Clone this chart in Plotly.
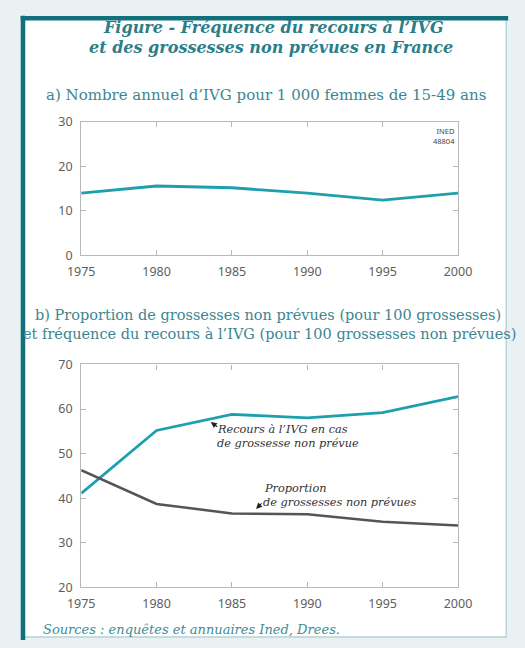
import plotly.graph_objects as go

# --- data ---------------------------------------------------------------
years = [1975, 1980, 1985, 1990, 1995, 2000]

# a) abortions per 1,000 women aged 15-49
ivg_rate = [14.0, 15.6, 15.2, 14.0, 12.4, 14.0]

# b) abortions per 100 unplanned pregnancies, and share of unplanned pregnancies
ivg_if_unplanned = [41.1, 55.2, 58.8, 58.0, 59.2, 62.8]
unplanned_share = [46.3, 38.7, 36.6, 36.4, 34.7, 33.9]

x_ticks = [1975, 1980, 1985, 1990, 1995, 2000]
y_ticks_a = [0, 10, 20, 30]
y_ticks_b = [20, 30, 40, 50, 60, 70]

# --- styles -------------------------------------------------------------
W, H = 525, 648
TEAL_LINE = "#1e9fae"
DARK_LINE = "#555555"
FRAME_DARK = "#11707c"
FRAME_LIGHT = "#b5d3d8"
TITLE_COL = "#2b7e89"
AXIS_COL = "#b8b8b8"
TICK_FONT = dict(family="Noto Sans", size=12.5, color="#5e5e5e")
SERIF = "DejaVu Serif"


def px_x(p):
    return p / W


def px_y(p):
    return 1 - p / H


fig = go.Figure()

fig.add_trace(go.Scatter(x=years, y=ivg_rate, mode="lines",
                         line=dict(color=TEAL_LINE, width=2.8),
                         xaxis="x", yaxis="y", hoverinfo="x+y"))
fig.add_trace(go.Scatter(x=years, y=ivg_if_unplanned, mode="lines",
                         line=dict(color=TEAL_LINE, width=2.8),
                         xaxis="x2", yaxis="y2", hoverinfo="x+y"))
fig.add_trace(go.Scatter(x=years, y=unplanned_share, mode="lines",
                         line=dict(color=DARK_LINE, width=2.5),
                         xaxis="x2", yaxis="y2", hoverinfo="x+y"))

axis_common = dict(showgrid=False, zeroline=False, showline=True,
                   linecolor=AXIS_COL, linewidth=1.2, mirror="ticks",
                   ticks="inside", ticklen=5, tickcolor=AXIS_COL,
                   tickfont=TICK_FONT, fixedrange=True)

x_dom = [px_x(71), px_x(469)]

fig.update_layout(
    width=W, height=H,
    margin=dict(l=0, r=0, t=0, b=0),
    paper_bgcolor="#e9f1f3",
    plot_bgcolor="rgba(0,0,0,0)",
    showlegend=False,
    xaxis=dict(domain=x_dom, range=[1975, 2000], tickvals=x_ticks,
               anchor="y", ticklabelstandoff=5, **axis_common),
    yaxis=dict(domain=[px_y(253), px_y(116)], range=[0, 30],
               tickvals=y_ticks_a, anchor="x", ticklabelstandoff=5,
               **axis_common),
    xaxis2=dict(domain=x_dom, range=[1975, 2000], tickvals=x_ticks,
                anchor="y2", ticklabelstandoff=4, **axis_common),
    yaxis2=dict(domain=[px_y(594), px_y(365)], range=[20, 70],
                tickvals=y_ticks_b, anchor="x2", ticklabelstandoff=5,
                **axis_common),
)

# framed white card: thin light border all round, thick dark top and left edges
shapes = [
    dict(type="rect", xref="paper", yref="paper",
         x0=px_x(9), x1=px_x(520), y0=px_y(645), y1=px_y(9),
         fillcolor="white", line=dict(color=FRAME_LIGHT, width=1.5),
         layer="below"),
    dict(type="line", xref="paper", yref="paper",
         x0=px_x(7), x1=px_x(522), y0=px_y(9.5), y1=px_y(9.5),
         line=dict(color=FRAME_DARK, width=4.5)),
    dict(type="line", xref="paper", yref="paper",
         x0=px_x(9.5), x1=px_x(9.5), y0=px_y(648), y1=px_y(7),
         line=dict(color=FRAME_DARK, width=4.5)),
]
fig.update_layout(shapes=shapes)


def paper_text(text, x, y, size, color, family=SERIF, xanchor="center",
               italic=False, bold=False):
    if italic:
        text = f"<i>{text}</i>"
    if bold:
        text = f"<b>{text}</b>"
    return dict(text=text, xref="paper", yref="paper", x=px_x(x), y=px_y(y),
                xanchor=xanchor, yanchor="middle", showarrow=False,
                font=dict(family=family, size=size, color=color))


annotations = [
    paper_text("Figure - Fréquence du recours à l’IVG", 274, 19, 16,
               TITLE_COL, italic=True, bold=True),
    paper_text("et des grossesses non prévues en France", 272, 40, 16,
               TITLE_COL, italic=True, bold=True),
    paper_text("a) Nombre annuel d’IVG pour 1 000 femmes de 15-49 ans",
               266, 88, 15, "#3d8690"),
    paper_text("b) Proportion de grossesses non prévues (pour 100 grossesses)",
               268, 314, 14.5, "#3d8690"),
    paper_text("et fréquence du recours à l’IVG (pour 100 grossesses non prévues)",
               270, 334, 14.5, "#3d8690"),
    paper_text("Sources : enquêtes et annuaires Ined, Drees.", 29, 637, 13,
               "#3d8c96", xanchor="left", italic=True),
    dict(text="INED<br>48804", xref="paper", yref="paper",
         x=px_x(468), y=px_y(118), xanchor="right", yanchor="top",
         align="right", showarrow=False,
         font=dict(family="Noto Sans", size=7.5, color="#444444")),
]

# series labels inside panel b, with short pointers to their lines
ann_font = dict(family=SERIF, size=11.3, color="#333333")
annotations += [
    dict(text="<i>Recours à l’IVG en cas</i>", xref="x2", yref="y2",
         x=1983.9, y=55.3, xanchor="left", yanchor="middle",
         showarrow=False, font=ann_font),
    dict(text="<i>de grossesse non prévue</i>", xref="x2", yref="y2",
         x=1983.9, y=52.3, xanchor="left", yanchor="middle",
         showarrow=False, font=ann_font),
    dict(text="", xref="x2", yref="y2", x=1983.6, y=57.1,
         showarrow=True, ax=8, ay=6, arrowhead=2, arrowsize=1,
         arrowwidth=1.2, arrowcolor="#222222", standoff=0),
    dict(text="<i>Proportion</i>", xref="x2", yref="y2",
         x=1989.2, y=42.1, xanchor="center", yanchor="middle",
         showarrow=False, font=ann_font),
    dict(text="<i>de grossesses non prévues</i>", xref="x2", yref="y2",
         x=1986.9, y=39.0, xanchor="left", yanchor="middle",
         showarrow=False, font=ann_font),
    dict(text="", xref="x2", yref="y2", x=1986.6, y=37.6,
         showarrow=True, ax=7, ay=-7, arrowhead=2, arrowsize=1,
         arrowwidth=1.2, arrowcolor="#222222", standoff=0),
]
fig.update_layout(annotations=annotations)

fig.write_html("out.html", config={"displayModeBar": False})
